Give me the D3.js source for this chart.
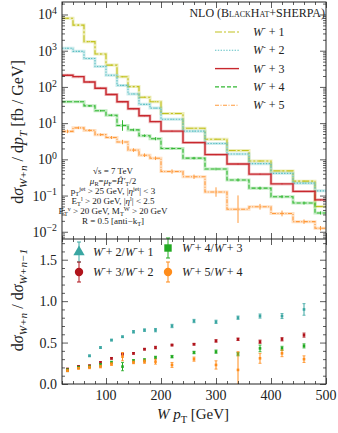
<!DOCTYPE html>
<html lang="en">
<head>
  <meta charset="UTF-8" />
  <title>W + n jets pT</title>
  <style>
    body { margin: 0; background: #fff; }
    svg text { font-family: 'Liberation Serif', 'DejaVu Serif', serif; fill: #222; }
    .tick line { stroke: #333; stroke-width: 0.8px; }
  </style>
  <script src="https://d3js.org/d3.v7.min.js"></script>
</head>
<body>
  <svg id="chart" width="338" height="433"></svg>

  <script>
    // bin edges in W pT [GeV]
    const binEdges = [20, 40, 60, 80, 100, 120, 140, 160, 180, 200, 240, 280, 320, 360, 400, 440, 480, 500];

    // dsigma/dpT [fb/GeV] per bin
    const w1 = [7850, 5100, 1780, 810, 400, 191, 102, 52, 39, 18.5, 7.2, 3.6, 1.75, 0.9, 0.48, 0.25, 0.05];
    const w2 = [1170, 960, 610, 365, 210, 110, 64, 33, 26, 12.8, 6.0, 2.75, 1.4, 0.76, 0.41, 0.22, 0.135];
    const w3 = [210, 192, 137, 92, 62, 39, 25, 16, 11, 6.0, 2.9, 1.35, 0.74, 0.39, 0.21, 0.13, 0.076];
    const w4 = [39, 39, 30, 22, 16.5, 8.6, 6.5, 4.5, 3.7, 2.0, 1.08, 0.54, 0.27, 0.16, 0.093, 0.062, 0.033];
    const w5 = [5.9, 7.4, 6.3, 4.8, 4.0, 3.0, 1.8, 1.3, 1.07, 0.46, 0.33, 0.125, 0.042, 0.049, 0.032, 0.019, 0.0125];
    // multiplicative error factors (value/f .. value*f)
    const w4err = [1.04, 1.04, 1.04, 1.05, 1.06, 1.4, 1.08, 1.08, 1.1, 1.06, 1.08, 1.08, 1.1, 1.1, 1.1, 1.1, 1.1];
    const w5err = [1.12, 1.08, 1.06, 1.08, 1.1, 1.15, 1.12, 1.12, 1.12, 1.15, 1.15, 1.35, 2.4, 1.2, 1.2, 1.15, 1.15];

    // ratio panel
    const ratioX = [30, 50, 70, 90, 110, 130, 150, 170, 190, 220, 260, 300, 340, 380, 420, 460];
    const r21 = [0.16, 0.21, 0.34, 0.44, 0.53, 0.57, 0.63, 0.65, 0.65, 0.70, 0.76, 0.75, 0.80, 0.82, 0.82, 0.90];
    const r21err = [0.01, 0.01, 0.01, 0.01, 0.01, 0.01, 0.015, 0.015, 0.02, 0.02, 0.02, 0.02, 0.02, 0.025, 0.03, 0.07];
    const r32 = [0.18, 0.21, 0.22, 0.26, 0.31, 0.36, 0.37, 0.42, 0.44, 0.47, 0.48, 0.52, 0.54, 0.51, 0.54, 0.59];
    const r32err = [0.01, 0.01, 0.01, 0.01, 0.01, 0.01, 0.01, 0.01, 0.015, 0.01, 0.01, 0.015, 0.015, 0.02, 0.02, 0.025];
    const r43 = [0.17, 0.20, 0.21, 0.23, 0.26, 0.21, 0.28, 0.29, 0.32, 0.33, 0.38, 0.39, 0.36, 0.43, 0.43, 0.46];
    const r43err = [0.01, 0.01, 0.01, 0.015, 0.015, 0.05, 0.015, 0.015, 0.015, 0.015, 0.015, 0.02, 0.02, 0.04, 0.025, 0.025];
    const r54 = [0.16, 0.19, 0.20, 0.21, 0.24, 0.33, 0.26, 0.27, 0.27, 0.23, 0.30, 0.23, 0.17, 0.31, 0.37, 0.30];
    const r54err = [0.01, 0.01, 0.015, 0.015, 0.015, 0.05, 0.015, 0.02, 0.03, 0.03, 0.025, 0.05, 0.22, 0.06, 0.04, 0.04];

    const xTicks = [100, 200, 300, 400, 500];
    const logTicks = [-2, -1, 0, 1, 2, 3, 4];
    const ratioTicks = [0, 0.5, 1.0, 1.5];

    const svg = d3.select('#chart');
    const L = 62, R = 326, T = 2, M = 239, B = 384;

    const x = d3.scaleLinear().domain([20, 500]).range([L, R]);
    const yTop = d3.scaleLog().domain([Math.pow(10, -2.2), Math.pow(10, 4.345)]).range([M, T]);
    const yBot = d3.scaleLinear().domain([0, 1.75]).range([B, M]);

    const defs = svg.append('defs');
    defs.append('clipPath').attr('id', 'clipTop').append('rect')
      .attr('x', L).attr('y', T).attr('width', R - L).attr('height', M - T);
    defs.append('clipPath').attr('id', 'clipBot').append('rect')
      .attr('x', L).attr('y', M).attr('width', R - L).attr('height', B - M);

    // rich text helper: parts = [{t, i, sup, sub, sc}]
    function rich(sel, parts, fs, supK = 0.38, subK = 0.28) {
      let shift = 0;
      parts.forEach(p => {
        const ts = sel.append('tspan').text(p.t);
        const target = p.sup ? -supK * fs : p.sub ? subK * fs : 0;
        ts.attr('dy', target - shift);
        shift = target;
        if (p.sup || p.sub) ts.attr('font-size', fs * 0.7);
        if (p.i) ts.attr('font-style', 'italic');
        if (p.sc) ts.style('font-variant', 'small-caps');
      });
    }

    // ---------- top panel ----------
    const series = [
      { v: w1, color: '#c2c21e', dash: '7,2,2,2', label: '1' },
      { v: w2, color: '#5cc0c4', dash: '1.4,1.4', label: '2' },
      { v: w3, color: '#c8282e', dash: null, label: '3', width: 1.4 },
      { v: w4, color: '#33b833', dash: '4,2', label: '4', err: w4err },
      { v: w5, color: '#ff9a3c', dash: '4,1.5,1,1.5', label: '5', err: w5err }
    ];

    const histLine = d3.line().x(d => x(d[0])).y(d => yTop(d[1]));
    const gTop = svg.append('g').attr('clip-path', 'url(#clipTop)');

    series.forEach(s => {
      const pts = [];
      s.v.forEach((v, i) => { pts.push([binEdges[i], v]); pts.push([binEdges[i + 1], v]); });
      gTop.append('path').datum(pts).attr('d', histLine)
        .attr('fill', 'none').attr('stroke', s.color).attr('stroke-opacity', 0.3)
        .attr('stroke-width', 3);
      gTop.append('path').datum(pts).attr('d', histLine)
        .attr('fill', 'none').attr('stroke', s.color)
        .attr('stroke-width', s.width || 1.1)
        .attr('stroke-dasharray', s.dash);
      // error bars at bin centres
      s.v.forEach((v, i) => {
        const f = s.err ? s.err[i] : 1.03;
        const cx = x((binEdges[i] + binEdges[i + 1]) / 2);
        gTop.append('line').attr('x1', cx).attr('x2', cx)
          .attr('y1', yTop(v / f)).attr('y2', yTop(v * f))
          .attr('stroke', s.color).attr('stroke-width', 1);
      });
    });

    // top legend
    svg.append('text').attr('x', 325).attr('y', 17).attr('text-anchor', 'end')
      .attr('font-size', 12)
      .call(t => rich(t, [{ t: 'NLO (' }, { t: 'BlackHat', sc: true }, { t: '+SHERPA)' }], 12));

    series.forEach((s, i) => {
      const ly = 32 + i * 18.3;
      svg.append('line').attr('x1', 215).attr('x2', 239).attr('y1', ly).attr('y2', ly)
        .attr('stroke', s.color).attr('stroke-width', s.width || 1.1)
        .attr('stroke-dasharray', s.dash);
      svg.append('text').attr('x', 253).attr('y', ly + 4).attr('font-size', 12)
        .call(t => rich(t, [{ t: 'W', i: true }, { t: '-', sup: true }, { t: ' + ' + s.label }], 12));
    });

    // annotation block
    const notes = [
      [{ t: '\u221As = 7 TeV' }],
      [{ t: '\u03BC', i: true }, { t: 'R', sub: true }, { t: '=' }, { t: '\u03BC', i: true }, { t: 'F', sub: true }, { t: '=' }, { t: '\u0124\u2032', i: true }, { t: 'T', sub: true }, { t: '/2' }],
      [{ t: 'p' }, { t: 'T', sub: true }, { t: 'jet', sup: true }, { t: ' > 25 GeV, |' }, { t: '\u03B7', i: true }, { t: 'jet', sup: true }, { t: '| < 3' }],
      [{ t: 'E' }, { t: 'T', sub: true }, { t: 'l', sup: true }, { t: ' > 20 GeV, |' }, { t: '\u03B7', i: true }, { t: 'l', sup: true }, { t: '| < 2.5' }],
      [{ t: 'E' }, { t: 'T', sub: true }, { t: '\u03BD', sup: true }, { t: ' > 20 GeV, M' }, { t: 'T', sub: true }, { t: 'W', sup: true }, { t: ' > 20 GeV' }],
      [{ t: 'R = 0.5 [anti\u2212k' }, { t: 'T', sub: true }, { t: ']' }]
    ];
    notes.forEach((n, i) => {
      svg.append('text').attr('x', 113).attr('y', 174 + i * 10).attr('text-anchor', 'middle')
        .attr('font-size', 9).call(t => rich(t, n, 9, 0.3, 0.2));
    });

    // ---------- bottom panel ----------
    const ratios = [
      { v: r21, e: r21err, color: '#3aa6a2', shape: d3.symbolTriangle, lx: 79, ly: 252, txt: ['2', '1'] },
      { v: r32, e: r32err, color: '#b0141c', shape: d3.symbolCircle, lx: 79, ly: 272, txt: ['3', '2'] },
      { v: r43, e: r43err, color: '#22aa22', shape: d3.symbolSquare, lx: 168, ly: 248, txt: ['4', '3'] },
      { v: r54, e: r54err, color: '#ff8c1a', shape: d3.symbolCircle, lx: 168, ly: 272, txt: ['5', '4'] }
    ];
    const gBot = svg.append('g').attr('clip-path', 'url(#clipBot)');
    ratios.forEach(s => {
      s.v.forEach((v, i) => {
        const cx = x(ratioX[i]);
        const y0 = yBot(v - s.e[i]), y1 = yBot(v + s.e[i]);
        gBot.append('line').attr('x1', cx).attr('x2', cx).attr('y1', y0).attr('y2', y1)
          .attr('stroke', s.color).attr('stroke-width', 1);
        [y0, y1].forEach(yy => gBot.append('line').attr('x1', cx - 1.5).attr('x2', cx + 1.5)
          .attr('y1', yy).attr('y2', yy).attr('stroke', s.color).attr('stroke-width', 0.8));
        gBot.append('rect').attr('x', cx - 1.3).attr('y', yBot(v) - 1.3)
          .attr('width', 2.6).attr('height', 2.6).attr('fill', s.color);
      });
      // legend marker with error bar
      const g = svg.append('g');
      g.append('line').attr('x1', s.lx).attr('x2', s.lx).attr('y1', s.ly - 10).attr('y2', s.ly + 10)
        .attr('stroke', s.color).attr('stroke-width', 1);
      [s.ly - 10, s.ly + 10].forEach(yy => g.append('line').attr('x1', s.lx - 2).attr('x2', s.lx + 2)
        .attr('y1', yy).attr('y2', yy).attr('stroke', s.color));
      g.append('path').attr('d', d3.symbol().type(s.shape).size(55)())
        .attr('transform', `translate(${s.lx},${s.ly})`).attr('fill', s.color);
      svg.append('text').attr('x', s.lx + 14).attr('y', s.ly + 4).attr('font-size', 12)
        .call(t => rich(t, [{ t: 'W', i: true }, { t: '-', sup: true }, { t: '+ ' + s.txt[0] + '/' },
          { t: 'W', i: true }, { t: '-', sup: true }, { t: '+ ' + s.txt[1] }], 12));
    });

    // ---------- axes / ticks ----------
    const tickG = svg.append('g');
    function addAxis(axis, transform, size, vals) {
      tickG.append('g').attr('transform', transform)
        .call(axis.tickValues(vals).tickSize(size).tickFormat(''))
        .call(g => g.select('.domain').remove());
    }
    const xMinor = d3.range(20, 501, 20).filter(v => v % 100 !== 0);
    [B, M].forEach(yy => {
      addAxis(d3.axisBottom(x), `translate(0,${yy})`, -6, xTicks);
      addAxis(d3.axisBottom(x), `translate(0,${yy})`, -3, xMinor);
    });
    [T, M].forEach(yy => {
      addAxis(d3.axisTop(x), `translate(0,${yy})`, -6, xTicks);
      addAxis(d3.axisTop(x), `translate(0,${yy})`, -3, xMinor);
    });

    const logMajor = logTicks.map(e => Math.pow(10, e));
    const logMinor = [];
    for (let e = -3; e <= 4; e++) for (let k = 2; k <= 9; k++) {
      const v = k * Math.pow(10, e);
      if (v > yTop.domain()[0] && v < yTop.domain()[1]) logMinor.push(v);
    }
    addAxis(d3.axisLeft(yTop), `translate(${L},0)`, -6, logMajor);
    addAxis(d3.axisLeft(yTop), `translate(${L},0)`, -3, logMinor);
    addAxis(d3.axisRight(yTop), `translate(${R},0)`, -6, logMajor);
    addAxis(d3.axisRight(yTop), `translate(${R},0)`, -3, logMinor);

    const rMinor = d3.range(0, 1.76, 0.1).filter(v => Math.abs((v * 2) - Math.round(v * 2)) > 1e-6);
    addAxis(d3.axisLeft(yBot), `translate(${L},0)`, -6, ratioTicks);
    addAxis(d3.axisLeft(yBot), `translate(${L},0)`, -3, rMinor);
    addAxis(d3.axisRight(yBot), `translate(${R},0)`, -6, ratioTicks);
    addAxis(d3.axisRight(yBot), `translate(${R},0)`, -3, rMinor);

    // frames
    svg.append('rect').attr('x', L).attr('y', T).attr('width', R - L).attr('height', B - T)
      .attr('fill', 'none').attr('stroke', '#222').attr('stroke-width', 1);
    svg.append('line').attr('x1', L).attr('x2', R).attr('y1', M).attr('y2', M)
      .attr('stroke', '#222').attr('stroke-width', 1);

    // tick labels
    logTicks.forEach(e => {
      svg.append('text').attr('x', 57).attr('y', yTop(Math.pow(10, e)) + 5).attr('text-anchor', 'end')
        .attr('font-size', 14)
        .call(t => rich(t, [{ t: '10' }, { t: e < 0 ? '\u2212' + (-e) : String(e), sup: true }], 14));
    });
    ratioTicks.forEach(v => {
      svg.append('text').attr('x', 57).attr('y', yBot(v) + 5).attr('text-anchor', 'end')
        .attr('font-size', 14).text(d3.format('.1f')(v));
    });
    xTicks.forEach(v => {
      svg.append('text').attr('x', x(v)).attr('y', 400).attr('text-anchor', 'middle')
        .attr('font-size', 14).text(v);
    });

    // axis titles
    svg.append('text').attr('x', 193).attr('y', 419).attr('text-anchor', 'middle').attr('font-size', 15)
      .call(t => rich(t, [{ t: 'W', i: true }, { t: ' p', i: true }, { t: 'T', sub: true }, { t: '  [GeV]' }], 15));
    svg.append('text').attr('transform', 'translate(23,132) rotate(-90)').attr('text-anchor', 'middle')
      .attr('font-size', 16)
      .call(t => rich(t, [{ t: 'd' }, { t: '\u03C3', i: true }, { t: 'W+n', sub: true, i: true }, { t: ' / d' },
        { t: 'p', i: true }, { t: 'T', sub: true, i: true }, { t: '  [fb / GeV]' }], 16));
    svg.append('text').attr('transform', 'translate(23,300) rotate(-90)').attr('text-anchor', 'middle')
      .attr('font-size', 16)
      .call(t => rich(t, [{ t: 'd' }, { t: '\u03C3', i: true }, { t: 'W+n', sub: true, i: true }, { t: ' / d' },
        { t: '\u03C3', i: true }, { t: 'W+n\u22121', sub: true, i: true }], 16));
  </script>
</body>
</html>
